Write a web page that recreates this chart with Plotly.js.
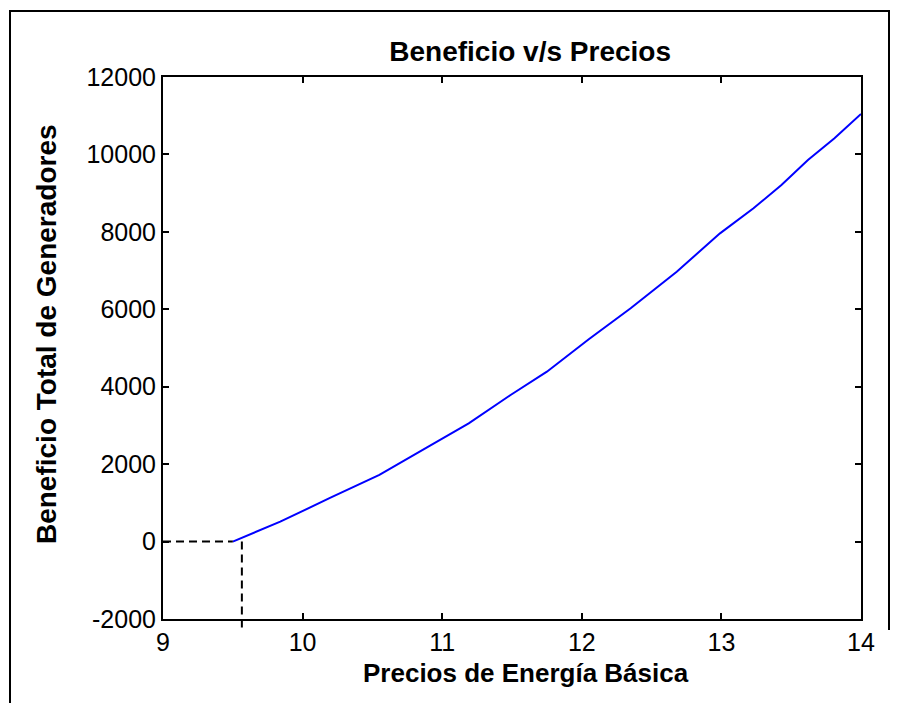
<!DOCTYPE html>
<html>
<head>
<meta charset="utf-8">
<script src="https://cdn.plot.ly/plotly-3.0.1.min.js"></script>
<style>
  html, body { margin: 0; padding: 0; background: #fff; }
  #wrap { position: relative; width: 904px; height: 703px; overflow: hidden; }
  #chart { position: absolute; left: 0; top: 0; width: 904px; height: 703px; }
  .frame { position: absolute; background: #000; }
</style>
</head>
<body>
<div id="wrap">
  <div id="chart"></div>
  <div class="frame" style="left:9px; top:10px; width:881px; height:2px;"></div>
  <div class="frame" style="left:9px; top:10px; width:2px; height:700px;"></div>
  <div class="frame" style="left:888px; top:10px; width:2px; height:620px;"></div>
</div>
<script>
// Total generator profit as a function of the basic energy price
const prices = [9.5, 9.84, 10.2, 10.55, 10.91, 11.19, 11.49, 11.75, 12.05, 12.35,
                12.68, 12.99, 13.23, 13.43, 13.62, 13.81, 14.0];
const profit = [0, 513, 1133, 1720, 2469, 3055, 3786, 4388, 5224, 6025,
                6971, 7962, 8608, 9210, 9856, 10416, 11044];

// Break-even markers (dashed guide lines)
const guideStartPrice = 9.0;
const curveStartPrice = 9.5;
const breakEvenPrice = 9.565;
const breakEvenProfit = 0;

const xRange = [9, 14];
const yRange = [-2000, 12000];
const xTicks = [9, 10, 11, 12, 13, 14];
const yTicks = [-2000, 0, 2000, 4000, 6000, 8000, 10000, 12000];

const titleText = 'Beneficio v/s Precios';
const xLabelText = 'Precios de Energía Básica';
const yLabelText = 'Beneficio Total de Generadores';

const FONT = 'Arial, "Liberation Sans", Helvetica, sans-serif';

const traces = [
  {
    x: prices, y: profit, type: 'scatter', mode: 'lines',
    line: { color: '#0000ff', width: 2 }, hoverinfo: 'skip'
  },
  {
    x: [guideStartPrice, curveStartPrice], y: [breakEvenProfit, breakEvenProfit],
    type: 'scatter', mode: 'lines',
    line: { color: '#000', width: 2, dash: '8px,5px' }, hoverinfo: 'skip'
  }
];

// vertical guide runs from the zero level down past the bottom axis line
const zeroPaper = (breakEvenProfit - yRange[0]) / (yRange[1] - yRange[0]);

const axisCommon = {
  showgrid: false, zeroline: false,
  showline: true, linecolor: '#000', linewidth: 2,
  mirror: 'ticks', ticks: 'inside', ticklen: 6, tickwidth: 2, tickcolor: '#000',
  tickfont: { family: FONT, size: 25, color: '#000' }
};

const layout = {
  width: 904, height: 703,
  margin: { l: 163, r: 43, t: 77, b: 84 },
  paper_bgcolor: 'rgba(0,0,0,0)', plot_bgcolor: '#fff',
  showlegend: false,
  title: {
    text: '<b>' + titleText + '</b>',
    font: { family: FONT, size: 28, color: '#000' },
    x: 0.526, xref: 'paper', xanchor: 'center',
    y: 1, yref: 'paper', yanchor: 'bottom', pad: { b: 16 }
  },
  xaxis: Object.assign({}, axisCommon, {
    range: xRange, tickvals: xTicks, ticktext: xTicks.map(String)
  }),
  yaxis: Object.assign({}, axisCommon, {
    range: yRange, tickvals: yTicks, ticktext: yTicks.map(String)
  }),
  annotations: [
    {
      text: '<b>' + xLabelText + '</b>', showarrow: false,
      xref: 'paper', yref: 'paper', x: 0.52, y: -0.1,
      xanchor: 'center', yanchor: 'middle',
      font: { family: FONT, size: 26, color: '#000' }
    },
    {
      text: '<b>' + yLabelText + '</b>', showarrow: false, textangle: -90,
      xref: 'paper', yref: 'paper', x: -0.166, y: 0.526,
      xanchor: 'center', yanchor: 'middle',
      font: { family: FONT, size: 28, color: '#000' }
    }
  ],
  shapes: [
    {
      type: 'line', xref: 'x', yref: 'paper',
      x0: breakEvenPrice, x1: breakEvenPrice, y0: zeroPaper, y1: -0.017,
      line: { color: '#000', width: 2, dash: '8px,5px' }, layer: 'above'
    }
  ]
};

Plotly.newPlot('chart', traces, layout, { staticPlot: true, displayModeBar: false });
</script>
</body>
</html>
